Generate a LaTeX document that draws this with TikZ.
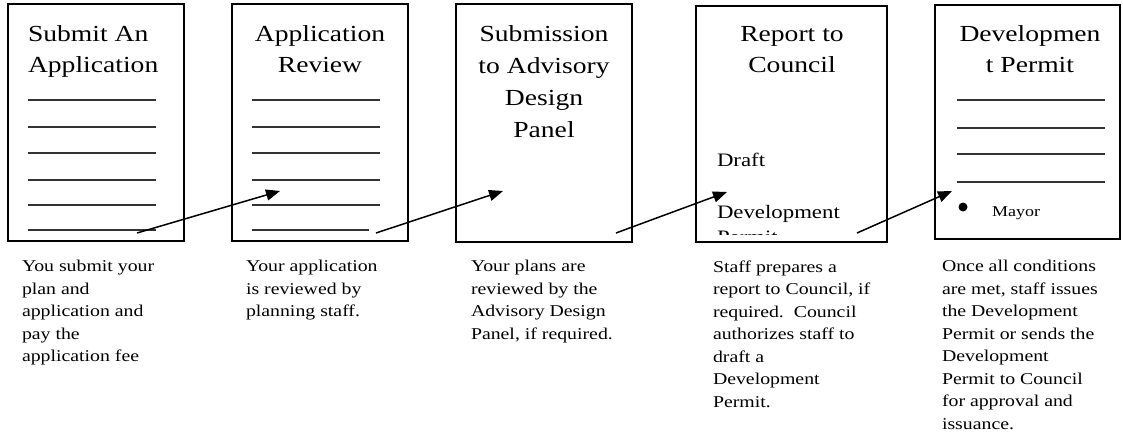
\documentclass[tikz,border=0pt]{standalone}
\usepackage{fontspec}
\setmainfont{Liberation Serif}[FakeStretch=1.2]
\usetikzlibrary{positioning}
\usetikzlibrary{arrows.meta}

\begin{document}
\begin{tikzpicture}
    [
    x=1pt, y=-1pt,
    every node/.style={inner sep=0pt, outer sep=0pt},
    page/.style={draw, line width=2.2pt, anchor=north west},
    title/.style={font=\fontsize{23}{31.5}\selectfont, align=center, anchor=north},
    note/.style={font=\fontsize{16.5}{22.5}\selectfont, align=left, anchor=north west},
    rule/.style={black!80, line width=1.1pt},
    flow/.style={line width=1.5pt, -{Triangle[length=14pt,width=11pt]}},
    ]

    \useasboundingbox (0,0) rectangle (1123,435);

    % the five pages
    \node[page, minimum width=176pt, minimum height=237pt] (pg_submit) at (8,4) {};
    \node[page, minimum width=176pt, minimum height=237pt] (pg_review) at (232,4) {};
    \node[page, minimum width=176pt, minimum height=238pt] (pg_panel) at (456,4) {};
    \node[page, minimum width=191pt, minimum height=236pt] (pg_report) at (696,6) {};
    \node[page, minimum width=185pt, minimum height=234pt] (pg_permit) at (935,5) {};

    % page titles
    \node[title, anchor=north west, align=left] (tt_submit) at (28,25.5) {Submit An\\Application};
    \node[title] (tt_review) at (320,25.5) {Application\\Review};
    \node[title, font=\fontsize{23}{32}\selectfont] (tt_panel) at (544,25.5) {Submission\\to Advisory\\Design\\Panel};
    \node[title] (tt_report) at (792,26) {Report to\\Council};
    \node[title] (tt_permit) at (1030,25.5) {Developmen\\t Permit};

    % blank lines
    \foreach \y in {100,127,153,180,205,230}
        \draw[rule] (28,\y) -- (156,\y);
    \foreach \y in {100,127,153,180,205}
        \draw[rule] (252,\y) -- (380,\y);
    \draw[rule] (252,230) -- (369,230);
    \foreach \y in {100,128,154,182}
        \draw[rule] (957,\y) -- (1105,\y);

    % report page body, cut off at the bottom
    \begin{scope}
        \clip (697,7) rectangle (886,235);
        \node[anchor=north west, align=left, font=\fontsize{19}{25}\selectfont] (tx_draft) at (717,153) {Draft\\[27pt]Development\\Permit};
    \end{scope}

    % permit page body
    \fill (963,207) circle (4.5);
    \node[anchor=base west, font=\fontsize{15}{18}\selectfont] (tx_mayor) at (992,217) {Mayor};

    % notes under the pages
    \node[note] (nt_submit) at (22,260.5) {You submit your\\plan and\\application and\\pay the\\application fee};
    \node[note] (nt_review) at (246,260.5) {Your application\\is reviewed by\\planning staff.};
    \node[note] (nt_panel) at (471,260.5) {Your plans are\\reviewed by the\\Advisory Design\\Panel, if required.};
    \node[note] (nt_report) at (713,260.5) {Staff prepares a\\report to Council, if\\required.\ \ Council\\authorizes staff to\\draft a\\Development\\Permit.};
    \node[note] (nt_permit) at (942,260.5) {Once all conditions\\are met, staff issues\\the Development\\Permit or sends the\\Development\\Permit to Council\\for approval and\\issuance.};

    % arrows between pages
    \coordinate (ar1_s) at (137,233);
    \coordinate (ar1_e) at (280,191);
    \coordinate (ar2_s) at (376,233);
    \coordinate (ar2_e) at (503,191);
    \coordinate (ar3_s) at (616,233);
    \coordinate (ar3_e) at (727,192);
    \coordinate (ar4_s) at (857,233);
    \coordinate (ar4_e) at (952,191);
    \draw[flow] (ar1_s) -- (ar1_e);
    \draw[flow] (ar2_s) -- (ar2_e);
    \draw[flow] (ar3_s) -- (ar3_e);
    \draw[flow] (ar4_s) -- (ar4_e);
\end{tikzpicture}
\end{document}
